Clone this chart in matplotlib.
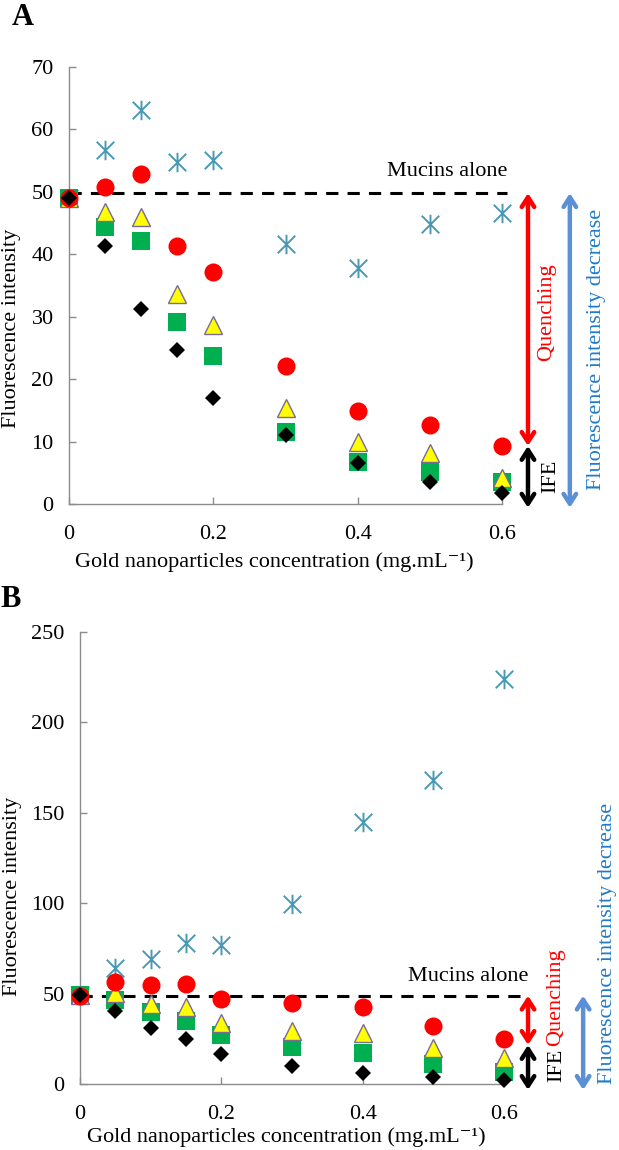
import matplotlib
matplotlib.use("Agg")
import matplotlib.pyplot as plt
from matplotlib.path import Path

plt.rcParams['font.family'] = ['Liberation Serif', 'DejaVu Serif']

# ---------------- data ----------------
conc = [0, 0.05, 0.1, 0.15, 0.2, 0.3, 0.4, 0.5, 0.6]

a_star = [49.0, 56.7, 63.1, 54.8, 55.1, 41.6, 37.8, 44.9, 46.6]
a_circle = [49.0, 50.7, 52.9, 41.3, 37.2, 22.1, 14.9, 12.7, 9.3]
a_triangle = [49.0, 46.7, 46.0, 33.6, 28.6, 15.4, 9.9, 8.2, 4.2]
a_square = [49.0, 44.4, 42.2, 29.2, 23.7, 11.6, 6.8, 5.2, 3.6]
a_diamond = [49.0, 41.4, 31.2, 24.6, 17.0, 11.1, 6.6, 3.6, 1.8]
a_mucins = 49.8

b_star = [49.0, 64.0, 69.0, 78.2, 76.9, 99.4, 144.8, 168.2, 224.0]
b_circle = [48.9, 56.6, 54.8, 55.3, 46.9, 44.6, 42.8, 32.3, 24.7]
b_triangle = [49.0, 50.2, 44.3, 42.4, 33.6, 29.5, 28.0, 19.7, 14.2]
b_square = [49.0, 46.5, 40.0, 35.0, 27.1, 20.7, 17.3, 11.1, 6.8]
b_diamond = [49.0, 40.6, 31.2, 24.7, 16.6, 10.1, 5.9, 4.0, 2.2]
b_mucins = 48.9

a_yticks = [0, 10, 20, 30, 40, 50, 60, 70]
b_yticks = [0, 50, 100, 150, 200, 250]
xticks = [0, 0.2, 0.4, 0.6]
xticklabels = ['0', '0.2', '0.4', '0.6']

# ---------------- style ----------------
STAR_C = '#4a98b4'
RED = '#ff0000'
YEL = '#ffff00'
TRI_EDGE = '#7a6a98'
GREEN = '#00b050'
ARROW_BLUE = '#5b8fd6'
TEXT_BLUE = '#1f7ac8'
FS = 16

asterisk = Path([(0, -1), (0, 1), (-0.9, -0.9), (0.9, 0.9), (-0.9, 0.9), (0.9, -0.9)],
                [Path.MOVETO, Path.LINETO, Path.MOVETO, Path.LINETO, Path.MOVETO, Path.LINETO])

W, H = 619, 1150
fig = plt.figure(figsize=(W / 100, H / 100), dpi=100)


def px_rect(x0, y0, x1, y1):
    return [x0 / W, 1 - y1 / H, (x1 - x0) / W, (y1 - y0) / H]


def draw_panel(ax, star, circ, tri, sq, dia, ylim, yticks):
    ax.plot(conc, star, linestyle='none', marker=asterisk, markersize=14,
            markeredgecolor=STAR_C, markerfacecolor='none', markeredgewidth=1.4, zorder=3, clip_on=False)
    ax.plot(conc, sq, linestyle='none', marker='s', markersize=13,
            markerfacecolor=GREEN, markeredgecolor=GREEN, markeredgewidth=0, zorder=4, clip_on=False)
    ax.plot(conc, tri, linestyle='none', marker='^', markersize=13.5,
            markerfacecolor=YEL, markeredgecolor=TRI_EDGE, markeredgewidth=1.0, zorder=5, clip_on=False)
    ax.plot(conc, circ, linestyle='none', marker='o', markersize=13,
            markerfacecolor=RED, markeredgecolor=RED, markeredgewidth=0, zorder=6, clip_on=False)
    ax.plot(conc, dia, linestyle='none', marker='D', markersize=8.5,
            markerfacecolor='black', markeredgecolor='black', markeredgewidth=0, zorder=7, clip_on=False)
    ax.set_xlim(0, 0.6)
    ax.set_ylim(*ylim)
    ax.set_yticks(yticks)
    ax.set_yticklabels([str(t) for t in yticks])
    ax.set_xticks(xticks)
    ax.set_xticklabels(xticklabels)
    for s in ['top', 'right']:
        ax.spines[s].set_visible(False)
    for s in ['left', 'bottom']:
        ax.spines[s].set_color('#8c8c8c')
        ax.spines[s].set_linewidth(1.0)
    ax.tick_params(direction='in', length=5, width=1.0, color='#8c8c8c',
                   labelsize=FS, labelcolor='black')
    ax.tick_params(axis='y', pad=11)
    ax.tick_params(axis='x', pad=15)


def arrow(ax, x, y0, y1, color, lw=3.2):
    ax.annotate('', xy=(x, y1), xytext=(x, y0), xycoords='data',
                arrowprops=dict(arrowstyle='<->,head_length=0.7,head_width=0.45',
                                color=color, lw=lw, shrinkA=0, shrinkB=0),
                annotation_clip=False)


# ---------------- panel A ----------------
axA = fig.add_axes(px_rect(69, 67, 502, 504))
draw_panel(axA, a_star, a_circle, a_triangle, a_square, a_diamond, (0, 70), a_yticks)
axA.plot([0, 0.607], [a_mucins, a_mucins], color='black', lw=2.2, dashes=(4, 3), zorder=2, clip_on=False)
axA.text(0.608, 53.3, 'Mucins alone', ha='right', va='center', fontsize=FS)
arrow(axA, 0.636, a_mucins, 9.3, RED)
arrow(axA, 0.636, 9.3, -0.6, 'black')
arrow(axA, 0.694, a_mucins, -0.6, ARROW_BLUE)
axA.text(0.662, 30.8, 'Quenching', rotation=90, color=RED, ha='center', va='center', fontsize=FS)
axA.text(0.668, 4.5, 'IFE', rotation=90, color='black', ha='center', va='center', fontsize=FS)
axA.text(0.731, 24.7, 'Fluorescence intensity decrease', rotation=90, color=TEXT_BLUE,
         ha='center', va='center', fontsize=FS)

# ---------------- panel B ----------------
axB = fig.add_axes(px_rect(80, 632, 504, 1084))
draw_panel(axB, b_star, b_circle, b_triangle, b_square, b_diamond, (0, 250), b_yticks)
axB.plot([0, 0.623], [b_mucins, b_mucins], color='black', lw=2.2, dashes=(4, 3), zorder=2, clip_on=False)
axB.text(0.634, 59.4, 'Mucins alone', ha='right', va='center', fontsize=FS)
arrow(axB, 0.634, b_mucins, 21.6, RED)
arrow(axB, 0.634, 21.6, -3.3, 'black')
arrow(axB, 0.712, b_mucins, -3.3, ARROW_BLUE)
axB.text(0.673, 48.0, 'Quenching', rotation=90, color=RED, ha='center', va='center', fontsize=FS)
axB.text(0.675, 10.5, 'IFE', rotation=90, color='black', ha='center', va='center', fontsize=FS)
axB.text(0.747, 78.0, 'Fluorescence intensity decrease', rotation=90, color=TEXT_BLUE,
         ha='center', va='center', fontsize=FS)

# ---------------- labels ----------------
xlabel = 'Gold nanoparticles concentration (mg.mL\u207b\u00b9)'
fig.text(12 / W, 1 - 328 / H, 'Fluorescence intensity', rotation=90, ha='center', va='center', fontsize=FS)
fig.text(13 / W, 1 - 896 / H, 'Fluorescence intensity', rotation=90, ha='center', va='center', fontsize=FS)
fig.text(75 / W, 1 - 562 / H, xlabel, ha='left', va='center', fontsize=FS)
fig.text(87 / W, 1 - 1137 / H, xlabel, ha='left', va='center', fontsize=FS)
fig.text(12 / W, 1 - 25 / H, 'A', ha='left', va='baseline', fontsize=22, fontweight='bold')
fig.text(0 / W, 1 - 607 / H, 'B', ha='left', va='baseline', fontsize=22, fontweight='bold')

fig.savefig('out.png', dpi=100)
